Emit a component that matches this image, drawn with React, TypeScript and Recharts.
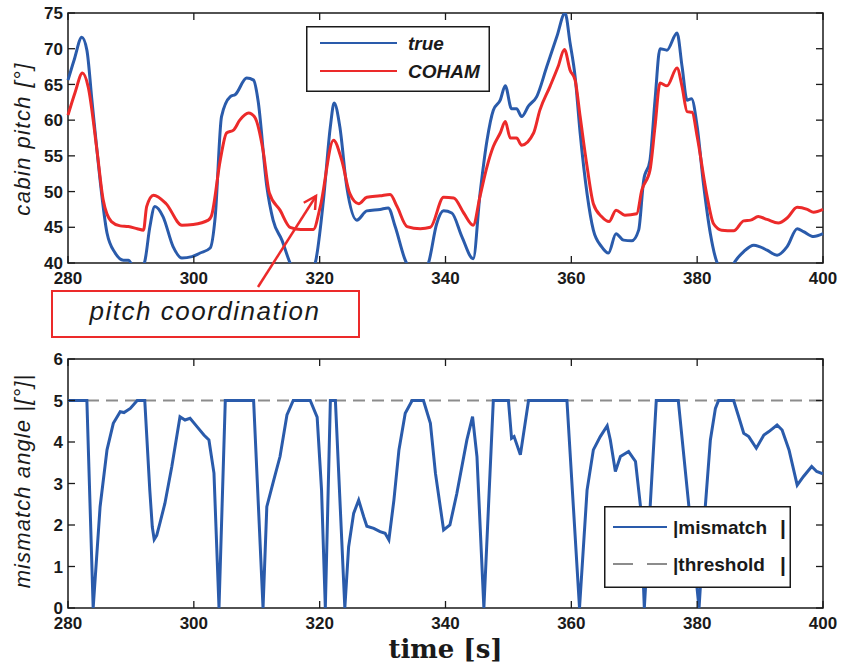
import React from "react";
import { LineChart, Line, XAxis, YAxis, ReferenceLine, ReferenceArea, Legend } from "recharts";

const X_TICKS = [280, 300, 320, 340, 360, 380, 400];
const PITCH_TICKS = [40, 45, 50, 55, 60, 65, 70, 75];
const MISMATCH_TICKS = [0, 1, 2, 3, 4, 5, 6];
const THRESHOLD = 5;

// "true" cabin pitch (blue)
const TRUE_T = [
  280, 281, 282.2, 283, 283.8, 284.6, 285.1, 286.2, 287.5, 288.8, 289.6, 290.3, 291, 291.8, 292.2, 293,
  293.8, 295.1, 296.7, 298.1, 299.7, 301, 302.6, 303.4, 304.4, 305.8, 306.6, 308.4, 309.5, 310.2, 311.6,
  312.6, 314, 315.3, 316.5, 318, 319.3, 320.6, 321.7, 322.3, 323.2, 324.3, 325.9, 327.5, 329.6, 330.9,
  332, 333.6, 335, 336.3, 337.3, 338.6, 339.7, 341, 342.6, 344.4, 345.5, 346.6, 347.6, 348.7, 349.5,
  350.5, 351.3, 352.1, 353.2, 354.5, 356.1, 357.7, 359, 359.8, 360.6, 361.4, 362.5, 363.5, 364.8, 365.9,
  367.1, 368.3, 369.6, 370.7, 371.5, 372.5, 373.3, 374.1, 375.2, 376.8, 377.6, 378.4, 379.1, 380, 381,
  382.1, 383.1, 384.2, 385.2, 386, 387.4, 389, 389.9, 391.1, 392.7, 394.3, 395.9, 396.9, 398.5, 400,
];
const TRUE_V = [
  65.6, 68.5, 71.6, 69.8, 62.8, 55.8, 51.6, 44.2, 41.4, 40.4, 40.4, 39.5, 38.5, 39.5, 40.2, 45,
  47.9, 46.5, 42.3, 40.7, 40.9, 41.4, 42.1, 46.5, 60.5, 63.3, 63.6, 65.9, 65.6, 62.8, 50.7,
  46, 43.2, 40, 38.2, 37.8, 40, 48.8, 59.1, 62.4, 59.1, 50.7, 46, 47.3, 47.5, 47.7,
  45.1, 40.4, 38.5, 38.5, 40, 45.5, 47.3, 47, 43.7, 40.6, 49.8, 57.2, 61.4, 62.8, 64.8,
  61.6, 61.6, 60.5, 62, 63.3, 67.5, 71.7, 75, 70.8, 66.1, 58.2, 49.7, 44.6, 42.3, 41.4,
  44.1, 43.2, 43.1, 44.6, 51.6, 54.4, 62.8, 70, 69.8, 72.2, 67.5, 62.8, 63, 59.1, 51.1,
  44.1, 40.2, 38.8, 39, 40.2, 41.6, 42.5, 42.3, 41.8, 41.1, 42.3, 44.8, 44.4, 43.7, 44.1,
];

// COHAM estimate (red)
const COHAM_T = [
  280, 281.1, 282.3, 283.2, 284.6, 285.6, 286.9, 288.3, 289.6, 291, 292, 292.5, 293.6, 295.6, 298.1,
  299.9, 302.3, 302.8, 304.2, 305.2, 306.3, 307.3, 308.7, 309.7, 311, 312, 313.7, 315.3, 317, 319,
  320.1, 322.2, 323.5, 324.8, 326.2, 327.5, 329.6, 331.2, 332.3, 333.9, 336, 337.6, 339.7, 341.3,
  342.9, 344.4, 345.5, 346.6, 347.6, 348.7, 349.5, 350.3, 351.3, 352.1, 354, 355, 356.6, 357.9,
  358.9, 359.8, 360.6, 361.4, 362.5, 363.5, 364.8, 366, 367.1, 368.5, 370.4, 371.2, 372.5, 373.3,
  374.1, 375.2, 376.8, 377.6, 378.4, 379.2, 380, 381.5, 382.6, 383.9, 385.8, 387.4, 388.5, 389.7,
  391.1, 392.9, 394.3, 395.9, 397.5, 398.5, 400,
];
const COHAM_V = [
  60.7, 63.8, 66.6, 64.7, 55.8, 48.8, 45.8, 45.2, 45.1, 44.8, 44.6, 47.9, 49.5, 48.3, 45.3,
  45.4, 46, 46.6, 54.4, 58.2, 58.6, 60, 61, 60.4, 55.8, 49.8, 47.4, 45, 44.7, 44.7,
  47.9, 57.2, 54.4, 49.7, 48.3, 49.2, 49.4, 49.6, 47.9, 45.1, 44.8, 45, 49.2, 49.1,
  47, 45.3, 49.4, 53.5, 56.3, 58.2, 59.8, 57.5, 57.5, 56.5, 58.2, 61.4, 64.7, 67.5,
  69.9, 67, 65.6, 60.5, 53.5, 48.3, 46.5, 45.8, 47.4, 46.7, 46.9, 50.2, 53, 59.1,
  65.2, 64.8, 67.3, 64.7, 61.2, 61.1, 57.7, 49.7, 45.5, 44.6, 44.5, 45.9, 46, 46.5,
  46.1, 45.6, 46.3, 47.8, 47.5, 47.1, 47.5,
];

// |mismatch| (blue, lower panel)
const MISMATCH_T = [
  280, 283, 284, 285.1, 286.2, 287.2, 288.3, 288.9, 289.9, 291, 292.2, 293, 293.4, 293.7, 294.1, 294.6, 295.4,
  296.5, 297.8, 298.6, 299.4, 300.5, 301.6, 302.4, 303.2, 304, 305, 309.5, 311, 311.6, 312.7, 313.7,
  314.8, 315.8, 318.5, 319.6, 320.3, 320.9, 321.7, 322.5, 324, 324.6, 325.4, 326.2, 327, 327.5,
  328.6, 329.6, 330.4, 331, 331.8, 332.6, 333.6, 334.7, 336.5, 337.6, 338.4, 339.7, 340.7, 341.8,
  343.4, 344.3, 345, 346.1, 347.6, 350, 350.5, 350.9, 351.9, 353.2, 359.3, 361.3, 362.5, 363.5,
  364.6, 365.7, 366.2, 367, 367.8, 369.1, 370.2, 371, 371.6, 373.5, 377, 380.3, 381.3, 382.1,
  382.9, 383.4, 385.8, 386.6, 387.4, 388.2, 389.4, 390.6, 391.4, 392.7, 393.5, 394.6, 395.9,
  396.9, 398.2, 399, 400,
];
const MISMATCH_V = [
  5, 5, 0, 2.44, 3.81, 4.45, 4.73, 4.71, 4.81, 5, 5, 2.84, 1.95, 1.65, 1.75, 2.04, 2.52,
  3.41, 4.61, 4.53, 4.57, 4.37, 4.17, 4.05, 3.25, 0, 5, 5, 0, 2.44, 3.08, 3.65,
  4.65, 5, 5, 4.6, 2.84, 0, 5, 5, 0, 1.47, 2.28, 2.6, 2.2, 1.97,
  1.92, 1.84, 1.8, 1.64, 2.6, 3.81, 4.69, 5, 5, 4.45, 3.25, 1.88, 2.0, 2.76,
  4.05, 4.61, 3.65, 0, 5, 5, 4.09, 4.13, 3.69, 5, 5, 0, 2.84, 3.81,
  4.13, 4.39, 4.05, 3.29, 3.65, 3.77, 3.53, 2.44, 0, 5, 5, 0, 2.46, 4.05,
  4.81, 5, 5, 4.61, 4.21, 4.13, 3.85, 4.17, 4.25, 4.41, 4.29, 3.81, 2.96,
  3.17, 3.41, 3.29, 3.23,
];

const zip = (t: number[], v: number[]) => t.map((x, i) => ({ t: x, v: v[i] }));
const trueData = zip(TRUE_T, TRUE_V);
const cohamData = zip(COHAM_T, COHAM_V);
const mismatchData = zip(MISMATCH_T, MISMATCH_V);

const BLUE = "#2a5bab";
const RED = "#ec2a2a";
const GRAY = "#8c8c8c";
const INK = "#1a1a1a";
const SANS = '"Liberation Sans", Arial, Helvetica, sans-serif';

const W = 851;
const PLOT_LEFT = 68;
const PLOT_RIGHT = 823;
const TICK_LEN = 7;

// inward ticks on bottom + top, labels under the frame
const xTick = (plotTop: number, plotBottom: number) => (props: any) => {
  const { x, payload } = props;
  return (
    <g>
      <line x1={x} x2={x} y1={plotBottom} y2={plotBottom - TICK_LEN} stroke={INK} strokeWidth={1.3} />
      <line x1={x} x2={x} y1={plotTop} y2={plotTop + TICK_LEN} stroke={INK} strokeWidth={1.3} />
      <text x={x} y={plotBottom + 9} dy="0.72em" textAnchor="middle" fontFamily={SANS} fontWeight="bold" fontSize={17} fill={INK}>
        {payload.value}
      </text>
    </g>
  );
};

// inward ticks on left + right, labels left of the frame
const yTick = (props: any) => {
  const { y, payload } = props;
  return (
    <g>
      <line x1={PLOT_LEFT} x2={PLOT_LEFT + TICK_LEN} y1={y} y2={y} stroke={INK} strokeWidth={1.3} />
      <line x1={PLOT_RIGHT} x2={PLOT_RIGHT - TICK_LEN} y1={y} y2={y} stroke={INK} strokeWidth={1.3} />
      <text x={PLOT_LEFT - 5} y={y} dy="0.36em" textAnchor="end" fontFamily={SANS} fontWeight="bold" fontSize={17} fill={INK}>
        {payload.value}
      </text>
    </g>
  );
};

const yTitle = (text: string, cy: number, spacing: number) => () => (
  <text
    x={22}
    y={cy}
    transform={`rotate(-90 22 ${cy})`}
    textAnchor="middle"
    dominantBaseline="central"
    fontFamily={SANS}
    fontStyle="italic"
    fontSize={22}
    letterSpacing={spacing}
    fill={INK}
  >
    {text}
  </text>
);

const PitchLegend = () => (
  <svg width={184} height={66}>
    <rect x={0.75} y={0.75} width={182.5} height={64.5} fill="#fff" stroke={INK} strokeWidth={1.5} />
    <line x1={14} x2={91} y1={17} y2={17} stroke={BLUE} strokeWidth={2.2} />
    <line x1={14} x2={91} y1={45} y2={45} stroke={RED} strokeWidth={2.2} />
    <text x={102} y={17} dominantBaseline="central" fontFamily={SANS} fontStyle="italic" fontWeight="bold" fontSize={19} fill={INK}>
      true
    </text>
    <text x={102} y={45} dominantBaseline="central" fontFamily={SANS} fontStyle="italic" fontWeight="bold" fontSize={19} fill={INK}>
      COHAM
    </text>
  </svg>
);

const MismatchLegend = () => (
  <svg width={187} height={82}>
    <rect x={0.75} y={0.75} width={185.5} height={80.5} fill="#fff" stroke={INK} strokeWidth={1.5} />
    <line x1={9} x2={63} y1={21} y2={21} stroke={BLUE} strokeWidth={2.2} />
    <line x1={9} x2={63} y1={58} y2={58} stroke={GRAY} strokeWidth={2.2} strokeDasharray="20 14" />
    <text x={69} y={21} dominantBaseline="central" fontFamily={SANS} fontWeight="bold" fontSize={19} fill={INK}>
      |mismatch
    </text>
    <text x={69} y={58} dominantBaseline="central" fontFamily={SANS} fontWeight="bold" fontSize={19} fill={INK}>
      |threshold
    </text>
    <text x={176} y={21} dominantBaseline="central" fontFamily={SANS} fontWeight="bold" fontSize={21} fill={INK}>
      |
    </text>
    <text x={176} y={58} dominantBaseline="central" fontFamily={SANS} fontWeight="bold" fontSize={21} fill={INK}>
      |
    </text>
  </svg>
);

// arrow head for the annotation
const ARROW_FROM = [258, 287];
const ARROW_TO = [316, 196];
const arrowHead = () => {
  const [x0, y0] = ARROW_FROM;
  const [x1, y1] = ARROW_TO;
  const a = Math.atan2(y1 - y0, x1 - x0);
  const len = 14;
  const spread = 0.5;
  const p1 = [x1 - len * Math.cos(a - spread), y1 - len * Math.sin(a - spread)];
  const p2 = [x1 - len * Math.cos(a + spread), y1 - len * Math.sin(a + spread)];
  return `M${p1[0]},${p1[1]} L${x1},${y1} L${p2[0]},${p2[1]}`;
};

export default function App() {
  return (
    <div style={{ position: "absolute", left: 0, top: 0, width: W, height: 667, background: "#fff" }}>
      {/* upper panel: cabin pitch */}
      <div style={{ position: "absolute", left: 0, top: 0 }}>
        <LineChart width={W} height={300} margin={{ top: 13, right: W - PLOT_RIGHT, bottom: 7, left: 0 }}>
          <XAxis
            dataKey="t"
            type="number"
            domain={[280, 400]}
            ticks={X_TICKS}
            axisLine={false}
            tickLine={false}
            tickSize={0}
            height={30}
            tick={xTick(13, 263)}
            allowDuplicatedCategory={false}
          />
          <YAxis
            type="number"
            domain={[40, 75]}
            ticks={PITCH_TICKS}
            allowDataOverflow
            axisLine={false}
            tickLine={false}
            tickSize={0}
            width={PLOT_LEFT}
            tick={yTick}
            label={yTitle("cabin pitch [°]", 139, 1.4)}
          />
          <ReferenceArea x1={280} x2={400} y1={40} y2={75} fill="none" stroke={INK} strokeWidth={1.5} />
          <Line data={trueData} dataKey="v" name="true" type="monotone" stroke={BLUE} strokeWidth={3} dot={false} activeDot={false} isAnimationActive={false} />
          <Line data={cohamData} dataKey="v" name="COHAM" type="monotone" stroke={RED} strokeWidth={3} dot={false} activeDot={false} isAnimationActive={false} />
          <Legend
            layout="vertical"
            align="center"
            verticalAlign="middle"
            content={() => <PitchLegend />}
            wrapperStyle={{ left: 306, top: 26, width: 184, height: 66 }}
          />
        </LineChart>
      </div>

      {/* lower panel: mismatch angle */}
      <div style={{ position: "absolute", left: 0, top: 340 }}>
        <LineChart width={W} height={327} margin={{ top: 19, right: W - PLOT_RIGHT, bottom: 0, left: 0 }}>
          <XAxis
            dataKey="t"
            type="number"
            domain={[280, 400]}
            ticks={X_TICKS}
            axisLine={false}
            tickLine={false}
            tickSize={0}
            height={59}
            tick={xTick(19, 268)}
            allowDuplicatedCategory={false}
            label={() => (
              <text x={(PLOT_LEFT + PLOT_RIGHT) / 2} y={318} textAnchor="middle" fontFamily='"DejaVu Serif", serif' fontWeight="bold" fontSize={26} fill={INK}>
                time [s]
              </text>
            )}
          />
          <YAxis
            type="number"
            domain={[0, 6]}
            ticks={MISMATCH_TICKS}
            axisLine={false}
            tickLine={false}
            tickSize={0}
            width={PLOT_LEFT}
            tick={yTick}
            label={yTitle("mismatch angle |[°]|", 141, 1.1)}
          />
          <ReferenceArea x1={280} x2={400} y1={0} y2={6} fill="none" stroke={INK} strokeWidth={1.5} />
          <ReferenceLine y={THRESHOLD} stroke={GRAY} strokeWidth={2} strokeDasharray="12 7" />
          <Line data={mismatchData} dataKey="v" name="|mismatch|" type="linear" stroke={BLUE} strokeWidth={3} dot={false} activeDot={false} isAnimationActive={false} />
          <Legend
            layout="vertical"
            align="center"
            verticalAlign="middle"
            content={() => <MismatchLegend />}
            wrapperStyle={{ left: 604, top: 166, width: 187, height: 82 }}
          />
        </LineChart>
      </div>

      {/* annotation */}
      <svg width={W} height={667} style={{ position: "absolute", left: 0, top: 0, pointerEvents: "none" }}>
        <line x1={ARROW_FROM[0]} y1={ARROW_FROM[1]} x2={ARROW_TO[0]} y2={ARROW_TO[1]} stroke={RED} strokeWidth={2.5} />
        <path d={arrowHead()} fill="none" stroke={RED} strokeWidth={2.5} />
        <rect x={52} y={291} width={307} height={46} fill="#fff" stroke={RED} strokeWidth={2} />
        <text x={205} y={320} textAnchor="middle" fontFamily={SANS} fontStyle="italic" fontSize={26} letterSpacing={1.5} fill={INK}>
          pitch coordination
        </text>
      </svg>
    </div>
  );
}
